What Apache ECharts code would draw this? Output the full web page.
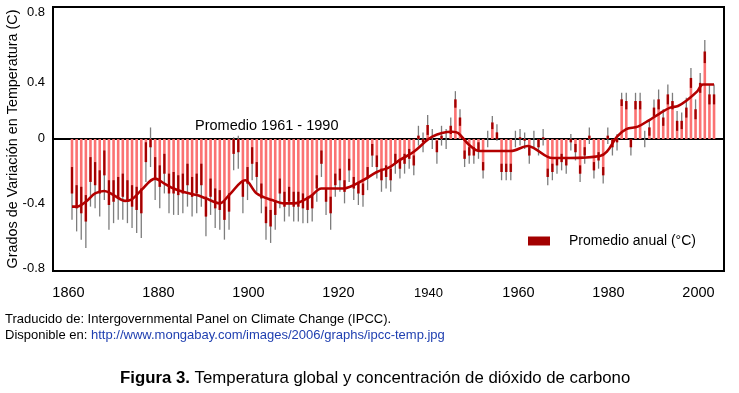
<!DOCTYPE html>
<html><head><meta charset="utf-8">
<script src="https://cdn.jsdelivr.net/npm/echarts@6/dist/echarts.min.js"></script>
<style>html,body{margin:0;padding:0;background:#fff}#c{width:739px;height:393px}</style>
</head><body><div id="c"></div>
<script>
// ---------- DATA ----------
const firstYear = 1861;
// annual anomaly (°C vs 1961-1990), 1861..2000
const anomalies = [
 -0.33,-0.42,-0.45,-0.50,-0.26,-0.28,-0.33,-0.22,-0.40,-0.38,
 -0.36,-0.35,-0.38,-0.41,-0.43,-0.45,-0.14,-0.05,-0.24,-0.29,
 -0.21,-0.33,-0.33,-0.34,-0.33,-0.28,-0.35,-0.33,-0.28,-0.47,
 -0.35,-0.42,-0.43,-0.49,-0.44,-0.09,-0.08,-0.35,-0.27,-0.15,
 -0.23,-0.36,-0.51,-0.53,-0.46,-0.33,-0.41,-0.38,-0.41,-0.41,
 -0.42,-0.43,-0.42,-0.30,-0.15,-0.38,-0.45,-0.28,-0.25,-0.32,
 -0.19,-0.30,-0.33,-0.34,-0.24,-0.10,-0.17,-0.25,-0.23,-0.25,
 -0.15,-0.18,-0.15,-0.12,-0.16,0.02,-0.02,0.085,0.00,-0.08,
 0.02,0.00,0.08,0.24,0.13,-0.12,-0.10,-0.10,-0.07,-0.19,
 0.00,0.10,0.04,-0.20,-0.20,-0.20,0.00,0.01,-0.01,-0.10,
 0.00,-0.05,0.01,-0.23,-0.20,-0.16,-0.14,-0.16,-0.02,-0.08,
 -0.21,-0.10,0.02,-0.19,-0.13,-0.22,0.02,-0.05,-0.02,0.24,
 0.23,-0.05,0.23,0.23,0.00,0.07,0.19,0.24,0.13,0.27,
 0.23,0.11,0.11,0.19,0.37,0.18,0.34,0.53,0.27,0.27
];
// half-width of the uncertainty whisker (°C)
const uncertainty = [
 0.16,0.14,0.16,0.16,0.15,0.14,0.14,0.15,0.15,0.13,
 0.13,0.14,0.13,0.13,0.14,0.15,0.12,0.12,0.13,0.13,
 0.12,0.12,0.13,0.12,0.12,0.13,0.12,0.12,0.13,0.12,
 0.11,0.12,0.12,0.12,0.11,0.10,0.10,0.10,0.10,0.10,
 0.09,0.09,0.10,0.10,0.09,0.09,0.09,0.09,0.09,0.09,
 0.09,0.08,0.08,0.08,0.08,0.08,0.10,0.07,0.07,0.07,
 0.07,0.07,0.07,0.07,0.07,0.07,0.07,0.07,0.07,0.07,
 0.06,0.06,0.06,0.06,0.06,0.06,0.06,0.06,0.06,0.07,
 0.06,0.06,0.05,0.05,0.05,0.05,0.05,0.05,0.05,0.05,
 0.05,0.04,0.05,0.05,0.05,0.05,0.05,0.05,0.05,0.05,
 0.05,0.05,0.05,0.05,0.05,0.05,0.05,0.05,0.05,0.05,
 0.05,0.05,0.05,0.05,0.05,0.05,0.05,0.05,0.05,0.04,
 0.05,0.05,0.05,0.05,0.05,0.05,0.05,0.06,0.05,0.06,
 0.05,0.06,0.05,0.06,0.06,0.06,0.06,0.07,0.06,0.06
];
// smoothed curve
const smoothYears  = [1861,1862,1864,1866,1868,1870,1872.5,1874,1876,1879,1881,1883,1885,1888,1890,1893,1895,1898.5,1901,1904.3,1907,1909,1912.5,1915,1919.7,1924,1927,1929.8,1932,1935,1939,1943.3,1944.6,1947,1949.3,1956,1959.7,1961,1965,1968.8,1975.3,1976.8,1979,1981,1983.5,1986,1988.3,1990.5,1992.2,1994,1996.3,1997.6,2000];
const smoothValues = [-0.41,-0.41,-0.38,-0.33,-0.315,-0.34,-0.375,-0.365,-0.31,-0.24,-0.27,-0.30,-0.32,-0.34,-0.36,-0.39,-0.34,-0.25,-0.33,-0.37,-0.39,-0.39,-0.35,-0.30,-0.30,-0.25,-0.20,-0.17,-0.127,-0.077,0.014,0.044,0.036,-0.036,-0.073,-0.073,-0.042,-0.055,-0.115,-0.115,-0.103,-0.077,0.014,0.06,0.075,0.115,0.156,0.19,0.20,0.232,0.287,0.33,0.33];
const xTickLabels = [1860,1880,1900,1920,1940,1960,1980,2000];
const yMin = -0.8, yMax = 0.8, yStep = 0.4;

// ---------- LAYOUT / STYLE ----------
const W = 739, H = 393;
const L = 53, R = 724, T = 7, B = 271;
const barX0 = 72, barStep = 4.619;     // pixel of first bar, px per bar
const labX0 = 68.5, labStep = 4.5;     // pixel of "1860", px per year on label scale
const FONT = 'Liberation Sans, Arial, sans-serif';
const LIGHT = '#fb7272', DARK = '#a30000', GREY = '#7d7d7d', CURVE = '#b30000';
const yShift = {'8': 5, '4': 9, '0': -1, '-4': -2, '-8': -3};

const chart = echarts.init(document.getElementById('c'), null, {renderer: 'canvas', width: W, height: H});

function renderItem(params, api) {
  const yr = api.value(0), v = api.value(1), e = api.value(2);
  const p0 = api.coord([yr, 0]);
  const pv = api.coord([yr, v]);
  const plo = api.coord([yr, v - e]);
  const phi = api.coord([yr, v + e]);
  const x = p0[0];
  const bw = 2.6;
  const children = [
    {type: 'rect', shape: {x: x - bw / 2, y: Math.min(p0[1], pv[1]), width: bw, height: Math.abs(pv[1] - p0[1])}, style: {fill: LIGHT}},
    {type: 'line', shape: {x1: x, y1: plo[1], x2: x, y2: phi[1]}, style: {stroke: GREY, lineWidth: 1.3}}
  ];
  const a = Math.max(Math.min(0, v), v - e), b = Math.min(Math.max(0, v), v + e);
  if (b > a) {
    const pa = api.coord([yr, a]), pb = api.coord([yr, b]);
    children.push({type: 'rect', shape: {x: x - 1.1, y: Math.min(pa[1], pb[1]), width: 2.2, height: Math.abs(pa[1] - pb[1])}, style: {fill: DARK}});
  }
  return {type: 'group', children};
}

const yRich = {};
Object.keys(yShift).forEach(k => {
  const s = yShift[k];
  yRich['k' + k.replace('-', 'm')] = {fontSize: 13, fontFamily: FONT, color: '#000',
    padding: s >= 0 ? [2 * s, 0, 0, 0] : [0, 0, -2 * s, 0]};
});

const option = {
  animation: false,
  backgroundColor: '#fff',
  textStyle: {fontFamily: FONT},
  grid: {left: L, right: W - R, top: T, bottom: H - B, outerBoundsMode: 'none', containLabel: false,
         show: true, borderColor: '#000', borderWidth: 2, backgroundColor: 'transparent'},
  legend: {
    data: [{name: 'Promedio anual (°C)', icon: 'rect'}],
    left: 528, top: 234, padding: 0, itemWidth: 22, itemHeight: 9, selectedMode: false,
    textStyle: {fontSize: 14, color: '#000', fontFamily: FONT, padding: [0, 0, 0, 14]}
  },
  xAxis: [
    {type: 'value', min: firstYear - (barX0 - L) / barStep, max: firstYear + (R - barX0) / barStep,
     axisLine: {show: true, onZero: true, lineStyle: {color: '#000', width: 2}},
     axisTick: {show: false}, axisLabel: {show: false}, splitLine: {show: false}},
    {type: 'value', position: 'bottom', min: 1860 - (labX0 - L) / labStep, max: 1860 + (R - labX0) / labStep,
     axisLine: {show: false, onZero: false}, axisTick: {show: false}, splitLine: {show: false},
     axisLabel: {customValues: xTickLabels, margin: 14, fontSize: 14.5, color: '#000', fontFamily: FONT,
       formatter: v => v === 1940 ? '{s|1940}' : String(v),
       rich: {s: {fontSize: 13, fontFamily: FONT, color: '#000', padding: [2, 0, 0, 0]}}}}
  ],
  yAxis: {
    type: 'value', min: yMin, max: yMax, interval: yStep,
    name: 'Grados de Variación en Temperatura (C)', nameLocation: 'middle', nameGap: 33, nameRotate: 90,
    nameMoveOverlap: false,
    nameTextStyle: {fontSize: 14.4, color: '#000', fontFamily: FONT},
    axisLine: {show: false}, axisTick: {show: false}, splitLine: {show: false},
    axisLabel: {margin: 8, color: '#000', fontSize: 13, fontFamily: FONT,
      formatter: v => { const k = String(Math.round(v * 10)); const txt = String(Math.round(v * 10) / 10); return '{k' + k.replace('-', 'm') + '|' + txt + '}'; },
      rich: yRich}
  },
  series: [
    {type: 'custom', name: 'Promedio anual (°C)', xAxisIndex: 0, yAxisIndex: 0, z: 2,
     itemStyle: {color: DARK}, renderItem,
     encode: {x: 0, y: 1},
     data: anomalies.map((v, i) => [firstYear + i, v, uncertainty[i]])},
    {type: 'line', xAxisIndex: 0, yAxisIndex: 0, z: 3, smooth: 0.35, symbol: 'none', silent: true,
     lineStyle: {color: CURVE, width: 2.6},
     data: smoothYears.map((y, i) => [y, smoothValues[i]])}
  ],
  graphic: [
    {type: 'text', left: 195, top: 118, style: {text: 'Promedio 1961 - 1990', fontSize: 14.5, fontFamily: FONT, fill: '#000'}},
    {type: 'text', left: 5, top: 313, style: {text: 'Traducido de: Intergovernmental Panel on Climate Change (IPCC).', fontSize: 13, fontFamily: FONT, fill: '#000'}},
    {type: 'text', left: 5, top: 329, style: {
      text: '{a|Disponible en: }{b|http://www.mongabay.com/images/2006/graphs/ipcc-temp.jpg}',
      fontSize: 13, fontFamily: FONT, fill: '#000',
      rich: {a: {fontSize: 13, fontFamily: FONT, fill: '#000'}, b: {fontSize: 13, fontFamily: FONT, fill: '#1f3fb0'}}}},
    {type: 'text', left: 120, top: 370, style: {
      text: '{b|Figura 3.} Temperatura global y concentración de dióxido de carbono',
      fontSize: 16.8, fontFamily: FONT, fill: '#000',
      rich: {b: {fontSize: 16.8, fontFamily: FONT, fontWeight: 'bold', fill: '#000'}}}}
  ]
};
chart.setOption(option);
</script>
</body></html>
